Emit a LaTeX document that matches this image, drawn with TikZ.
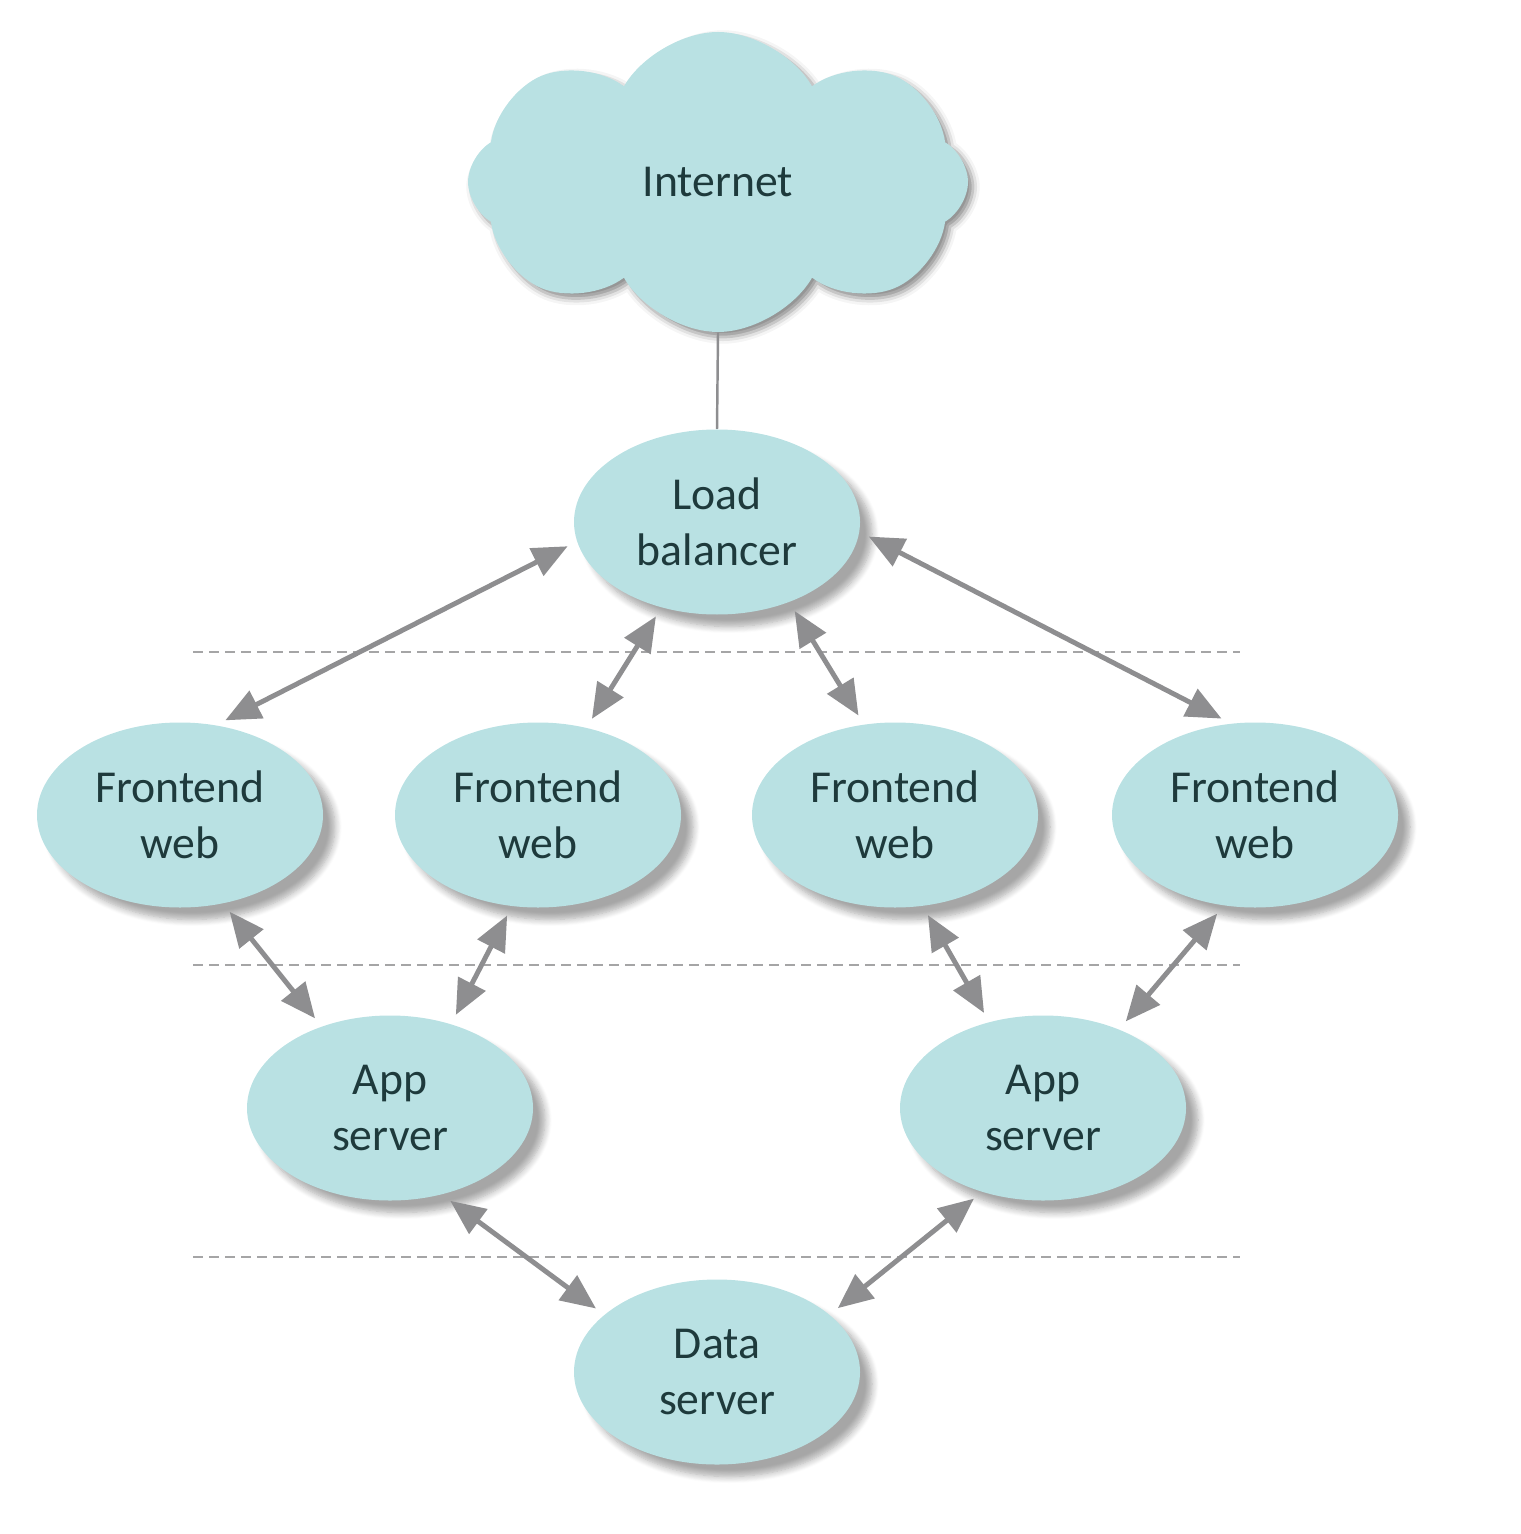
\documentclass[tikz,border=0pt]{standalone}
\usepackage{fontspec}
\setmainfont{Carlito}
\usepackage{tikz}
\usetikzlibrary{arrows.meta, positioning, shapes, shapes.symbols, shadows.blur}

\definecolor{nodefill}{HTML}{B9E1E3}
\definecolor{linkgray}{HTML}{8E8E90}
\definecolor{textdark}{HTML}{1E3A3C}

\tikzset{
    server/.style={ellipse, fill=nodefill, minimum width=2.86cm, minimum height=1.85cm, inner sep=0pt,
        align=center, text=textdark, font=\fontsize{13}{16}\selectfont,
        blur shadow={shadow xshift=1.2mm, shadow yshift=-1.2mm, shadow blur steps=8, shadow opacity=35}},
    link/.style={{Triangle[length=3.5mm,width=3mm]}-{Triangle[length=3.5mm,width=3mm]}, draw=linkgray, line width=1.4pt,
        shorten <=1mm, shorten >=1mm},
    tier/.style={draw=linkgray!80, line width=0.6pt, dash pattern=on 1mm off 0.6mm}
}

\begin{document}
\begin{tikzpicture}
    \useasboundingbox (0,0) rectangle (15.2,-15.34);

    \node (Internet) [cloud, cloud puffs=8, cloud puff arc=120, aspect=1.67, fill=nodefill, minimum width=5cm, minimum height=3cm,
        text=textdark, font=\fontsize{13}{16}\selectfont,
        blur shadow={shadow xshift=0.5mm, shadow yshift=-0.5mm, shadow blur steps=3, shadow opacity=45}] at (7.18,-1.82) {Internet};

    \node (LoadBalancer) [server] at (7.17,-5.22) {Load\\balancer};

    \node (Frontend1) [server] at (1.80,-8.15) {Frontend\\web};
    \node (Frontend2) [server] at (5.38,-8.15) {Frontend\\web};
    \node (Frontend3) [server] at (8.95,-8.15) {Frontend\\web};
    \node (Frontend4) [server] at (12.55,-8.15) {Frontend\\web};

    \node (App1) [server] at (3.90,-11.08) {App\\server};
    \node (App2) [server] at (10.43,-11.08) {App\\server};

    \node (DataServer) [server] at (7.17,-13.72) {Data\\server};

    % tier separators
    \draw[tier] (1.93,-6.52) -- (12.4,-6.52);
    \draw[tier] (1.93,-9.65) -- (12.4,-9.65);
    \draw[tier] (1.93,-12.57) -- (12.4,-12.57);

    \draw[draw=linkgray, line width=0.7pt] (Internet.south) -- (LoadBalancer.north);

    \draw[link] (LoadBalancer.188) -- (Frontend1.68);
    \draw[link] (LoadBalancer.237) -- (Frontend2.61);
    \draw[link] (LoadBalancer.312) -- (Frontend3.109);
    \draw[link] (LoadBalancer.356) -- (Frontend4.105);

    \draw[link] (Frontend1.296) -- (App1.130);
    \draw[link] (Frontend2.254) -- (App1.54);
    \draw[link] (Frontend3.287) -- (App2.122);
    \draw[link] (Frontend4.251) -- (App2.46);

    \draw[link] (App1.301) -- (DataServer.153);
    \draw[link] (App2.234) -- (DataServer.27);

\end{tikzpicture}
\end{document}
